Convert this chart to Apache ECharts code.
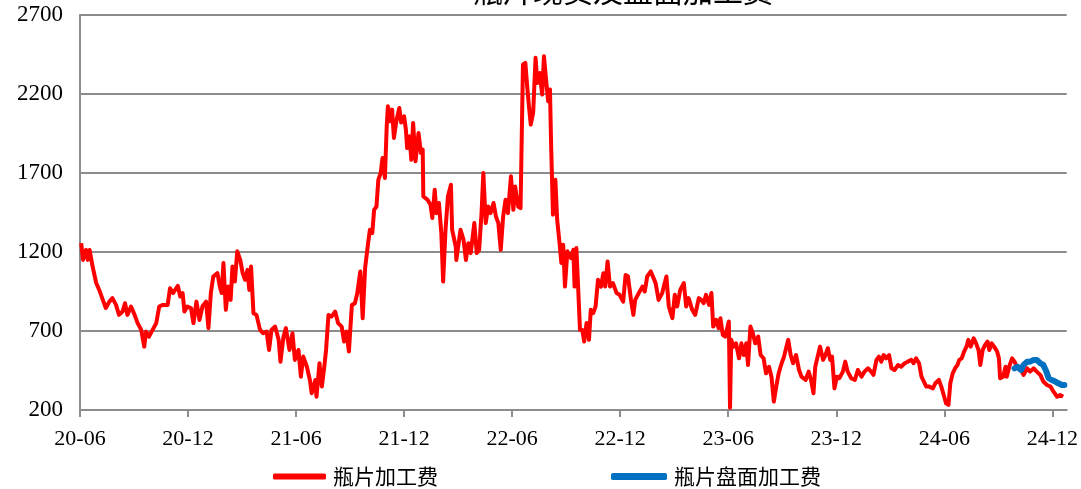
<!DOCTYPE html>
<html>
<head>
<meta charset="utf-8">
<script src="https://cdn.jsdelivr.net/npm/echarts@6/dist/echarts.min.js"></script>
<style>
html,body{margin:0;padding:0;background:#fff;}
#chart{width:1081px;height:489px;}
</style>
</head>
<body>
<div id="chart"></div>
<script>
const titleText = '瓶片现货及盘面加工费';
const seriesNames = ['瓶片加工费', '瓶片盘面加工费'];
const xTickLabels = ['20-06','20-12','21-06','21-12','22-06','22-12','23-06','23-12','24-06','24-12'];
const yTicks = [200, 700, 1200, 1700, 2200, 2700];

const spotDates = [
'2020-06-03','2020-06-06','2020-06-11','2020-06-14','2020-06-17','2020-06-22','2020-06-28','2020-07-03','2020-07-09','2020-07-14',
'2020-07-20','2020-07-25','2020-08-01','2020-08-06','2020-08-12','2020-08-16','2020-08-20','2020-08-26','2020-09-02','2020-09-07',
'2020-09-13','2020-09-18','2020-09-21','2020-09-26','2020-10-02','2020-10-08','2020-10-13','2020-10-19','2020-10-27','2020-11-01',
'2020-11-06','2020-11-14','2020-11-18','2020-11-22','2020-11-25','2020-11-30','2020-12-06','2020-12-10','2020-12-15','2020-12-20',
'2020-12-25','2021-01-01','2021-01-05','2021-01-09','2021-01-13','2021-01-20','2021-01-24','2021-01-27','2021-01-30','2021-02-04',
'2021-02-08','2021-02-12','2021-02-15','2021-02-19','2021-02-23','2021-02-28','2021-03-02','2021-03-06','2021-03-10','2021-03-13',
'2021-03-16','2021-03-20','2021-03-25','2021-04-01','2021-04-06','2021-04-12','2021-04-16','2021-04-20','2021-04-26','2021-05-02',
'2021-05-05','2021-05-10','2021-05-14','2021-05-20','2021-05-25','2021-05-29','2021-06-05','2021-06-09','2021-06-13','2021-06-19',
'2021-06-24','2021-06-27','2021-07-03','2021-07-05','2021-07-10','2021-07-14','2021-07-18','2021-07-21','2021-07-25','2021-07-30',
'2021-08-06','2021-08-11','2021-08-17','2021-08-21','2021-08-25','2021-08-29','2021-09-04','2021-09-09','2021-09-13','2021-09-18',
'2021-09-22','2021-09-26','2021-10-01','2021-10-04','2021-10-08','2021-10-11','2021-10-15','2021-10-18','2021-10-22','2021-10-25',
'2021-10-29','2021-11-02','2021-11-04','2021-11-08','2021-11-11','2021-11-14','2021-11-18','2021-11-23','2021-11-26','2021-12-01',
'2021-12-04','2021-12-06','2021-12-10','2021-12-13','2021-12-16','2021-12-20','2021-12-25','2021-12-29','2022-01-02','2022-01-03',
'2022-01-10','2022-01-15','2022-01-18','2022-01-22','2022-01-25','2022-01-29','2022-02-03','2022-02-06','2022-02-10','2022-02-14',
'2022-02-19','2022-02-21','2022-02-27','2022-02-28','2022-03-05','2022-03-10','2022-03-14','2022-03-18','2022-03-22','2022-03-28',
'2022-04-02','2022-04-06','2022-04-10','2022-04-13','2022-04-17','2022-04-21','2022-04-25','2022-04-30','2022-05-04','2022-05-08',
'2022-05-12','2022-05-16','2022-05-20','2022-05-24','2022-05-29','2022-06-03','2022-06-06','2022-06-11','2022-06-15','2022-06-19',
'2022-06-23','2022-06-26','2022-06-29','2022-07-02','2022-07-06','2022-07-10','2022-07-13','2022-07-17','2022-07-21','2022-07-24',
'2022-07-28','2022-08-01','2022-08-04','2022-08-06','2022-08-09','2022-08-13','2022-08-16','2022-08-20','2022-08-23','2022-08-26',
'2022-08-29','2022-09-03','2022-09-09','2022-09-13','2022-09-15','2022-09-18','2022-09-21','2022-09-24','2022-09-28','2022-10-01',
'2022-10-05','2022-10-09','2022-10-12','2022-10-16','2022-10-20','2022-10-24','2022-10-29','2022-11-03','2022-11-06','2022-11-10',
'2022-11-14','2022-11-19','2022-11-25','2022-11-30','2022-12-06','2022-12-10','2022-12-14','2022-12-19','2022-12-23','2022-12-26',
'2023-01-02','2023-01-08','2023-01-12','2023-01-16','2023-01-22','2023-01-30','2023-02-05','2023-02-11','2023-02-18','2023-02-22',
'2023-02-28','2023-03-02','2023-03-06','2023-03-11','2023-03-17','2023-03-21','2023-03-25','2023-04-01','2023-04-06','2023-04-12',
'2023-04-16','2023-04-20','2023-04-24','2023-04-29','2023-05-03','2023-05-06','2023-05-11','2023-05-15','2023-05-18','2023-05-22',
'2023-05-26','2023-06-02','2023-06-04','2023-06-06','2023-06-10','2023-06-14','2023-06-19','2023-06-23','2023-06-27','2023-07-01',
'2023-07-04','2023-07-08','2023-07-12','2023-07-16','2023-07-21','2023-07-25','2023-07-30','2023-08-04','2023-08-09','2023-08-13',
'2023-08-17','2023-08-21','2023-08-25','2023-08-30','2023-09-04','2023-09-08','2023-09-11','2023-09-15','2023-09-19','2023-09-24',
'2023-09-29','2023-10-03','2023-10-10','2023-10-15','2023-10-19','2023-10-23','2023-10-26','2023-10-30','2023-11-04','2023-11-09',
'2023-11-13','2023-11-17','2023-11-21','2023-11-24','2023-11-28','2023-12-02','2023-12-06','2023-12-12','2023-12-16','2023-12-20',
'2023-12-26','2024-01-02','2024-01-07','2024-01-13','2024-01-18','2024-01-24','2024-01-29','2024-02-03','2024-02-08','2024-02-12',
'2024-02-16','2024-02-20','2024-02-24','2024-02-29','2024-03-03','2024-03-08','2024-03-14','2024-03-19','2024-03-25','2024-03-30',
'2024-04-06','2024-04-10','2024-04-14','2024-04-19','2024-04-23','2024-04-26','2024-05-01','2024-05-06','2024-05-12','2024-05-16',
'2024-05-22','2024-05-26','2024-05-30','2024-06-04','2024-06-08','2024-06-11','2024-06-15','2024-06-19','2024-06-23','2024-06-26',
'2024-06-30','2024-07-04','2024-07-08','2024-07-11','2024-07-15','2024-07-20','2024-07-24','2024-07-28','2024-08-01','2024-08-05',
'2024-08-09','2024-08-13','2024-08-16','2024-08-20','2024-08-24','2024-08-29','2024-09-02','2024-09-04','2024-09-09','2024-09-13',
'2024-09-15','2024-09-20','2024-09-24','2024-09-28','2024-10-03','2024-10-09','2024-10-13','2024-10-19','2024-10-24','2024-10-30',
'2024-11-05','2024-11-11','2024-11-16','2024-11-22','2024-11-28','2024-12-03','2024-12-09','2024-12-14','2024-12-19'
];
const spotValues = [
1256,1150,1213,1150,1213,1108,1004,960,897,846,
886,908,865,802,823,876,802,855,802,750,
707,601,696,664,707,750,855,865,865,971,
940,986,918,940,823,855,844,750,886,770,
855,886,718,940,1045,1066,981,940,1130,834,
981,897,1108,1013,1204,1150,1066,1024,1087,960,
1108,813,802,707,686,696,580,707,728,644,
506,664,718,580,686,517,580,411,538,474,
390,306,390,284,496,348,474,580,802,791,
823,750,728,633,696,570,865,876,940,1077,
781,1098,1256,1341,1320,1467,1488,1657,1700,1795,
1668,1995,2122,2027,2101,1922,2027,2111,2019,2059,
1974,1858,1932,1784,2017,1774,1953,1826,1848,1552,
1531,1499,1415,1594,1446,1510,1320,1013,1341,1552,
1626,1341,1235,1150,1341,1277,1150,1256,1193,1383,
1193,1214,1446,1700,1383,1488,1446,1510,1425,1383,
1214,1425,1531,1446,1679,1467,1615,1488,1478,2386,
2397,2249,2122,2006,2080,2429,2270,2333,2196,2439,
2270,2154,2228,1869,1436,1657,1404,1256,1130,1246,
981,1204,1161,1214,981,1225,971,707,707,633,
750,644,834,813,855,1024,981,1066,981,1140,
981,1003,940,929,886,1055,1045,897,802,897,
940,981,950,1045,1077,1003,897,940,1045,855,
781,929,855,960,1003,855,908,834,802,908,
897,876,929,865,940,728,770,718,781,675,
664,760,215,644,601,622,527,622,548,622,
485,728,686,622,664,548,527,432,474,411,
253,348,432,496,538,601,644,548,496,548,
453,411,390,443,390,306,474,538,601,517,
548,591,517,538,337,411,401,443,506,443,
401,390,453,411,443,464,443,422,517,538,
506,548,527,548,464,453,485,474,496,506,
517,496,527,496,411,401,348,348,337,369,
390,348,295,242,232,369,432,464,485,517,
527,570,601,644,601,654,622,580,485,580,
612,633,580,622,601,570,527,401,411,474,
411,485,527,506,464,453,422,464,443,464,
443,422,380,358,348,316,284,295,284
];

const futDates = [
'2024-09-28','2024-10-03','2024-10-09','2024-10-13','2024-10-19','2024-10-24','2024-10-30','2024-11-05','2024-11-11','2024-11-16',
'2024-11-21','2024-11-25','2024-11-30','2024-12-06','2024-12-11','2024-12-17','2024-12-21'
];
const futValues = [
464,474,453,485,506,506,517,517,496,485,
443,401,390,380,369,358,358
];

function monthIndex(s) {
  const p = s.split('-').map(Number);
  return (p[0] - 2020) * 12 + (p[1] - 6) + (p[2] - 1) / 30;
}
function pairs(ds, vs) { return ds.map((d, i) => [monthIndex(d), vs[i]]); }

const chart = echarts.init(document.getElementById('chart'), null, {renderer: 'canvas'});
const gray = '#8c8c8c';
const serif = '"Liberation Serif", "Times New Roman", serif';
const cjk = '"Noto Sans CJK SC", sans-serif';

chart.setOption({
  animation: false,
  backgroundColor: '#ffffff',
  title: {
    text: titleText,
    left: 468,
    top: -29,
    textStyle: {fontFamily: cjk, fontSize: 30, fontWeight: 'normal', color: '#000'}
  },
  grid: {left: 80, right: 14, top: 15, bottom: 79, containLabel: false},
  legend: [
    {data: [seriesNames[0]], left: 268, top: 461, padding: 5, itemWidth: 53, itemHeight: 6, itemGap: 0,
     icon: 'roundRect', textStyle: {fontFamily: cjk, fontSize: 21, color: '#000', padding: [0,0,0,2]}},
    {data: [seriesNames[1]], left: 606, top: 461, padding: 5, itemWidth: 56, itemHeight: 7, itemGap: 0,
     icon: 'roundRect', textStyle: {fontFamily: cjk, fontSize: 21, color: '#000', padding: [0,0,0,2]}}
  ],
  xAxis: {
    type: 'value',
    min: 0,
    max: 54.8,
    interval: 6,
    splitLine: {show: false},
    axisLine: {show: true, lineStyle: {color: gray, width: 2}},
    axisTick: {show: true, length: 7, lineStyle: {color: gray, width: 2},
               customValues: xTickLabels.map((_, i) => i * 6)},
    axisLabel: {
      customValues: xTickLabels.map((_, i) => i * 6),
      formatter: v => xTickLabels[Math.round(v / 6)] || '',
      fontFamily: serif, fontSize: 22, color: '#000', margin: 18
    }
  },
  yAxis: {
    type: 'value',
    min: yTicks[0],
    max: yTicks[yTicks.length - 1],
    interval: 500,
    splitLine: {show: true, lineStyle: {color: gray, width: 2}},
    axisLine: {show: true, lineStyle: {color: gray, width: 2}},
    axisTick: {show: false},
    axisLabel: {fontFamily: serif, fontSize: 23, color: '#000', margin: 17,
                formatter: v => String(v)}
  },
  series: [
    {
      name: seriesNames[0], type: 'line', data: pairs(spotDates, spotValues),
      showSymbol: false, symbol: 'none', z: 2,
      lineStyle: {color: '#ff0000', width: 4, join: 'round'},
      itemStyle: {color: '#ff0000'}
    },
    {
      name: seriesNames[1], type: 'line', data: pairs(futDates, futValues),
      showSymbol: false, symbol: 'none', z: 3,
      lineStyle: {color: '#0070c0', width: 6, join: 'round', cap: 'round'},
      itemStyle: {color: '#0070c0'}
    }
  ]
});
</script>
</body>
</html>
